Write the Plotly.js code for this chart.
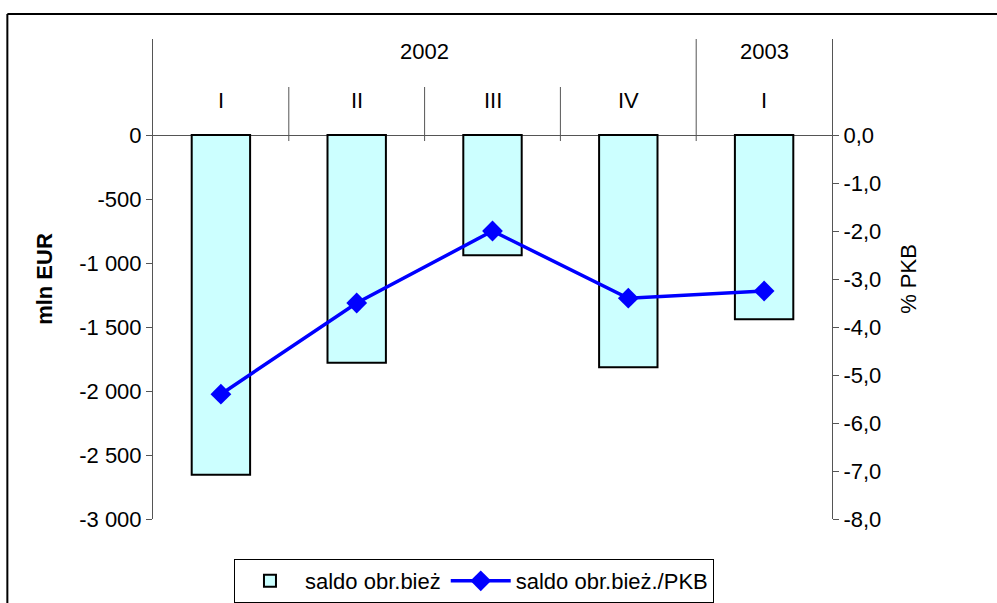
<!DOCTYPE html>
<html>
<head>
<meta charset="utf-8">
<script src="https://cdn.plot.ly/plotly-3.0.1.min.js"></script>
<style>
  html, body { margin: 0; padding: 0; background: #fff; }
  #chart { width: 997px; height: 603px; }
</style>
</head>
<body>
<div id="chart"></div>
<script>
// dane: saldo obrotow biezacych
const quarters = ['I', 'II', 'III', 'IV', 'I'];
const years = ['2002', '2002', '2002', '2002', '2003'];
const saldoMlnEur = [-2655, -1780, -940, -1815, -1440];
const saldoPkb = [-5.4, -3.5, -2.0, -3.4, -3.25];

const eurTicks = [0, -500, -1000, -1500, -2000, -2500, -3000];
const pkbTicks = [0, -1, -2, -3, -4, -5, -6, -7, -8];

const FONT = 'Liberation Sans, Arial, sans-serif';
const FSIZE = 22;
const AXIS_GRAY = '#555555';

// "-1 000" z lacznikiem zamiast minusa
function fmtEur(v) {
  const s = Math.abs(v).toString().replace(/\B(?=(\d{3})+(?!\d))/g, ' ');
  return (v < 0 ? '-' : '') + s;
}
// "-1,0"
function fmtPkb(v) {
  return (v < 0 ? '-' : '') + Math.abs(v).toFixed(1).replace('.', ',');
}

const idx = quarters.map((q, i) => i);

const bars = {
  type: 'bar',
  name: 'saldo obr.bież',
  x: idx,
  y: saldoMlnEur,
  width: 0.43,
  marker: { color: '#CCFFFF', line: { color: '#000000', width: 2 } },
  hoverinfo: 'y'
};

const line = {
  type: 'scatter',
  mode: 'lines+markers',
  name: 'saldo obr.bież./PKB',
  x: idx,
  y: saldoPkb,
  yaxis: 'y2',
  line: { color: '#0000FF', width: 3.5 },
  marker: { symbol: 'diamond', size: 16, color: '#0000FF' }
};

// linie podzialu kategorii (kwartaly i lata)
const shapes = [];
for (let i = 0; i < quarters.length - 1; i++) {
  const yearBreak = years[i] !== years[i + 1];
  shapes.push({
    type: 'line', xref: 'x', yref: 'y',
    x0: i + 0.5, x1: i + 0.5,
    y0: -47, y1: yearBreak ? 750 : 375,
    line: { color: AXIS_GRAY, width: 1 }
  });
}
// ramka wykresu
shapes.push({
  type: 'line', xref: 'paper', yref: 'paper',
  x0: -0.2145, x1: 1.4, y0: 1.052, y1: 1.052,
  line: { color: '#000', width: 2 }
});
shapes.push({
  type: 'line', xref: 'paper', yref: 'paper',
  x0: -0.2145, x1: -0.2145, y0: 1.052, y1: -0.3,
  line: { color: '#000', width: 2 }
});

// etykiety kwartalow i lat
const annotations = [];
quarters.forEach((q, i) => {
  annotations.push({
    xref: 'x', yref: 'y', x: i, y: 273,
    text: q, showarrow: false,
    font: { family: FONT, size: FSIZE, color: '#000' }
  });
});
const uniqYears = [...new Set(years)];
uniqYears.forEach(yr => {
  const pos = idx.filter(i => years[i] === yr);
  const mid = (pos[0] + pos[pos.length - 1]) / 2;
  annotations.push({
    xref: 'x', yref: 'y', x: mid, y: 650,
    text: yr, showarrow: false,
    font: { family: FONT, size: FSIZE, color: '#000' }
  });
});

const layout = {
  width: 997,
  height: 603,
  margin: { l: 153, r: 165, t: 39, b: 84, autoexpand: false },
  paper_bgcolor: '#ffffff',
  plot_bgcolor: '#ffffff',
  font: { family: FONT, size: FSIZE, color: '#000' },
  showlegend: true,
  bargap: 0,
  xaxis: {
    range: [-0.5, quarters.length - 0.5],
    showticklabels: false,
    ticks: '',
    showgrid: false,
    zeroline: false,
    showline: false,
    fixedrange: true
  },
  yaxis: {
    range: [-3000, 750],
    tickvals: eurTicks,
    ticktext: eurTicks.map(fmtEur),
    ticks: 'outside',
    ticklen: 6,
    tickcolor: AXIS_GRAY,
    showline: true,
    linecolor: AXIS_GRAY,
    linewidth: 1,
    showgrid: false,
    zeroline: true,
    zerolinecolor: AXIS_GRAY,
    zerolinewidth: 1,
    title: { text: 'mln EUR', font: { family: FONT, size: FSIZE, weight: 'bold' }, standoff: 20 },
    fixedrange: true
  },
  yaxis2: {
    overlaying: 'y',
    side: 'right',
    range: [-8, 2],
    tickvals: pkbTicks,
    ticktext: pkbTicks.map(fmtPkb),
    ticks: 'outside',
    ticklen: 6,
    tickcolor: AXIS_GRAY,
    showline: true,
    linecolor: AXIS_GRAY,
    linewidth: 1,
    showgrid: false,
    zeroline: false,
    title: { text: '% PKB', font: { family: FONT, size: FSIZE }, standoff: 20 },
    fixedrange: true
  },
  legend: {
    orientation: 'h',
    xref: 'container',
    yref: 'container',
    x: 0.4754,
    xanchor: 'center',
    y: 0.073,
    yanchor: 'top',
    bordercolor: '#000',
    borderwidth: 1,
    itemwidth: 60,
    font: { family: FONT, size: FSIZE }
  },
  shapes: shapes,
  annotations: annotations
};

Plotly.newPlot('chart', [bars, line], layout, { displayModeBar: false, staticPlot: true });
</script>
</body>
</html>
